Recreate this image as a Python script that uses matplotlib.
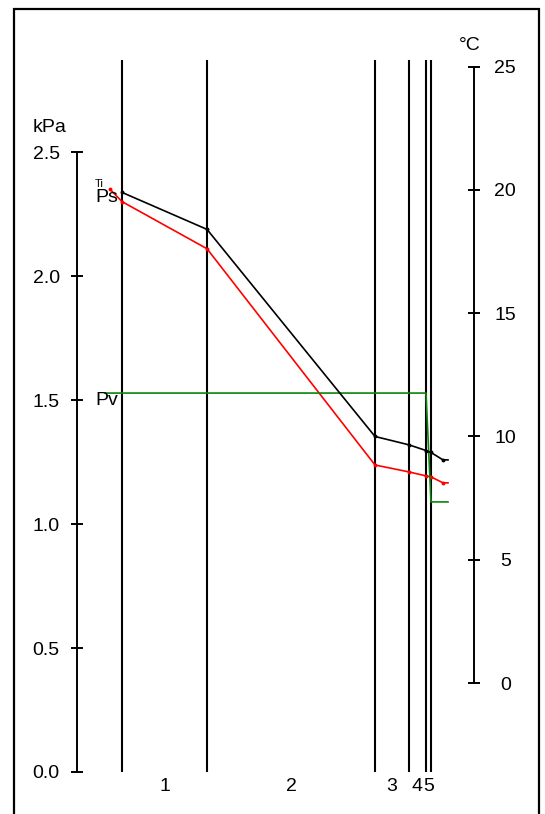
import matplotlib
matplotlib.use('Agg')
import numpy as np
import matplotlib.pyplot as plt
from matplotlib.patches import Rectangle

plt.rcParams['font.family'] = ['Liberation Sans', 'DejaVu Sans']

# wall build-up, inside -> outside (thickness in mm)
layer_names = ['1', '2', '3', '4', '5']
layer_thick = [85, 168, 34, 17, 5]
x_inside = -12          # interior air
x_outside = [321, 326]  # exterior air

# temperature at surface, layer boundaries and exterior (°C)
temp_c = [19.9, 18.4, 10.0, 9.66, 9.43, 9.35, 9.05, 9.05]
# saturation pressure: interior air, surfaces/boundaries, exterior (kPa)
ps_kpa = [2.35, 2.30, 2.11, 1.238, 1.21, 1.194, 1.19, 1.166, 1.166]
# vapour pressure
pv_x = [-17, 304, 309, 326]
pv_kpa = [1.528, 1.528, 1.089, 1.089]

kpa_ticks = [0.0, 0.5, 1.0, 1.5, 2.0, 2.5]
degc_ticks = [0, 5, 10, 15, 20, 25]

bounds = np.concatenate([[0], np.cumsum(layer_thick)])
x_temp = list(bounds) + x_outside
x_ps = [x_inside] + list(bounds) + x_outside

FS = 14
W, H = 545, 814
fig = plt.figure(figsize=(W / 100, H / 100), dpi=100)
ax = fig.add_axes([77 / W, 1 - 772 / H, (474 - 77) / W, (772 - 60) / H])
ax.set_xlim(-45, 352)
ax.set_ylim(0, 2.871)

for b in bounds:
    ax.axvline(b, color='black', lw=1.5, zorder=1)

ax.plot(x_ps, ps_kpa, color='red', lw=1.2, marker='o', ms=1.8,
        markevery=list(range(len(x_ps) - 1)), zorder=3)
ax.plot(pv_x, pv_kpa, color='#0c850c', lw=1.2, zorder=3)

ax.text(-27, 2.315, 'Ps', fontsize=FS, va='center', ha='left')
ax.text(-27, 2.37, 'Ti', fontsize=8, va='center', ha='left')
ax.text(-27, 1.50, 'Pv', fontsize=FS, va='center', ha='left')

for i, name in enumerate(layer_names):
    cx = (bounds[i] + bounds[i + 1]) / 2
    ax.text(cx, -0.021, name, transform=ax.get_xaxis_transform(),
            fontsize=FS, ha='center', va='center')

for s in ['top', 'right', 'bottom']:
    ax.spines[s].set_visible(False)
ax.spines['left'].set_bounds(0, 2.5)
ax.spines['left'].set_linewidth(1.4)
ax.set_xticks([])
ax.set_yticks(kpa_ticks)
ax.set_yticklabels([f'{v:.1f}' for v in kpa_ticks])
ax.tick_params(axis='y', direction='inout', length=9, width=1.4, pad=8, labelsize=FS)

ax2 = ax.twinx()
ax2.set_ylim(-3.61, 25.27)
ax2.plot(x_temp, temp_c, color='black', lw=1.2, marker='o', ms=1.8,
         markevery=list(range(len(x_temp) - 1)), zorder=3)
for s in ['top', 'left', 'bottom']:
    ax2.spines[s].set_visible(False)
ax2.spines['right'].set_bounds(0, 25)
ax2.spines['right'].set_linewidth(1.4)
ax2.set_yticks(degc_ticks)
ax2.set_yticklabels([str(v) for v in degc_ticks])
ax2.tick_params(axis='y', direction='inout', length=9, width=1.4, pad=18, labelsize=FS)
for lab in ax2.get_yticklabels():
    lab.set_horizontalalignment('center')

fig.text(50 / W, 1 - 128 / H, 'kPa', fontsize=FS, ha='center', va='center')
fig.text(470 / W, 1 - 45 / H, '°C', fontsize=FS, ha='center', va='center')

fig.patches.append(Rectangle((14 / W, -0.05), (539 - 14) / W, 1.05 - 9 / H,
                             transform=fig.transFigure, fill=False,
                             ec='black', lw=1.6))

fig.savefig('out.png', dpi=100)
